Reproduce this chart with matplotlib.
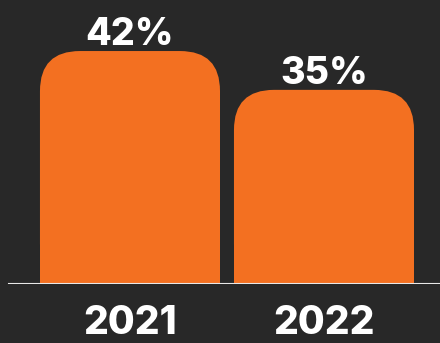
import matplotlib.pyplot as plt
from matplotlib.patches import FancyBboxPatch, Rectangle

years = ["2021", "2022"]
shares = [42, 35]
labels = ["42%", "35%"]

bg = "#282828"
orange = "#F37021"
font = "Inter"

fig = plt.figure(figsize=(4.4, 3.43), dpi=100, facecolor=bg)
ax = fig.add_axes([0, 59 / 343, 1, 284 / 343])
ax.set_facecolor(bg)

x = list(range(len(years)))
width = 0.928
ax.set_xlim(-0.670, 1.598)
ax.set_ylim(0, 51.2)

# px per data unit, for rounding corners equally in both directions
fig.canvas.draw()
p0 = ax.transData.transform((0, 0))
p1 = ax.transData.transform((1, 1))
aspect = (p1[0] - p0[0]) / (p1[1] - p0[1])
r = 40 / (p1[0] - p0[0])

for xi, h, lab in zip(x, shares, labels):
    left = xi - width / 2
    ax.add_patch(FancyBboxPatch((left, 0), width, h,
                                boxstyle=f"round,pad=0,rounding_size={r}",
                                mutation_aspect=aspect, fc=orange, ec="none"))
    ax.add_patch(Rectangle((left, 0), width, h / 2, fc=orange, ec="none"))
    ax.annotate(lab, (xi, h), xytext=(0, 4.5), textcoords="offset points",
                ha="center", va="baseline", color="white",
                fontsize=27, fontweight="heavy", family=font)

ax.axhline(0, xmin=9 / 440, xmax=1, color="#e8e8e8", lw=1.5)

for s in ax.spines.values():
    s.set_visible(False)
ax.set_yticks([])
ax.set_xticks(x)
ax.set_xticklabels(years, color="white", fontsize=28, fontweight="heavy", family=font)
ax.tick_params(axis="x", length=0, pad=15)

fig.savefig("out.png", dpi=100, facecolor=bg)
